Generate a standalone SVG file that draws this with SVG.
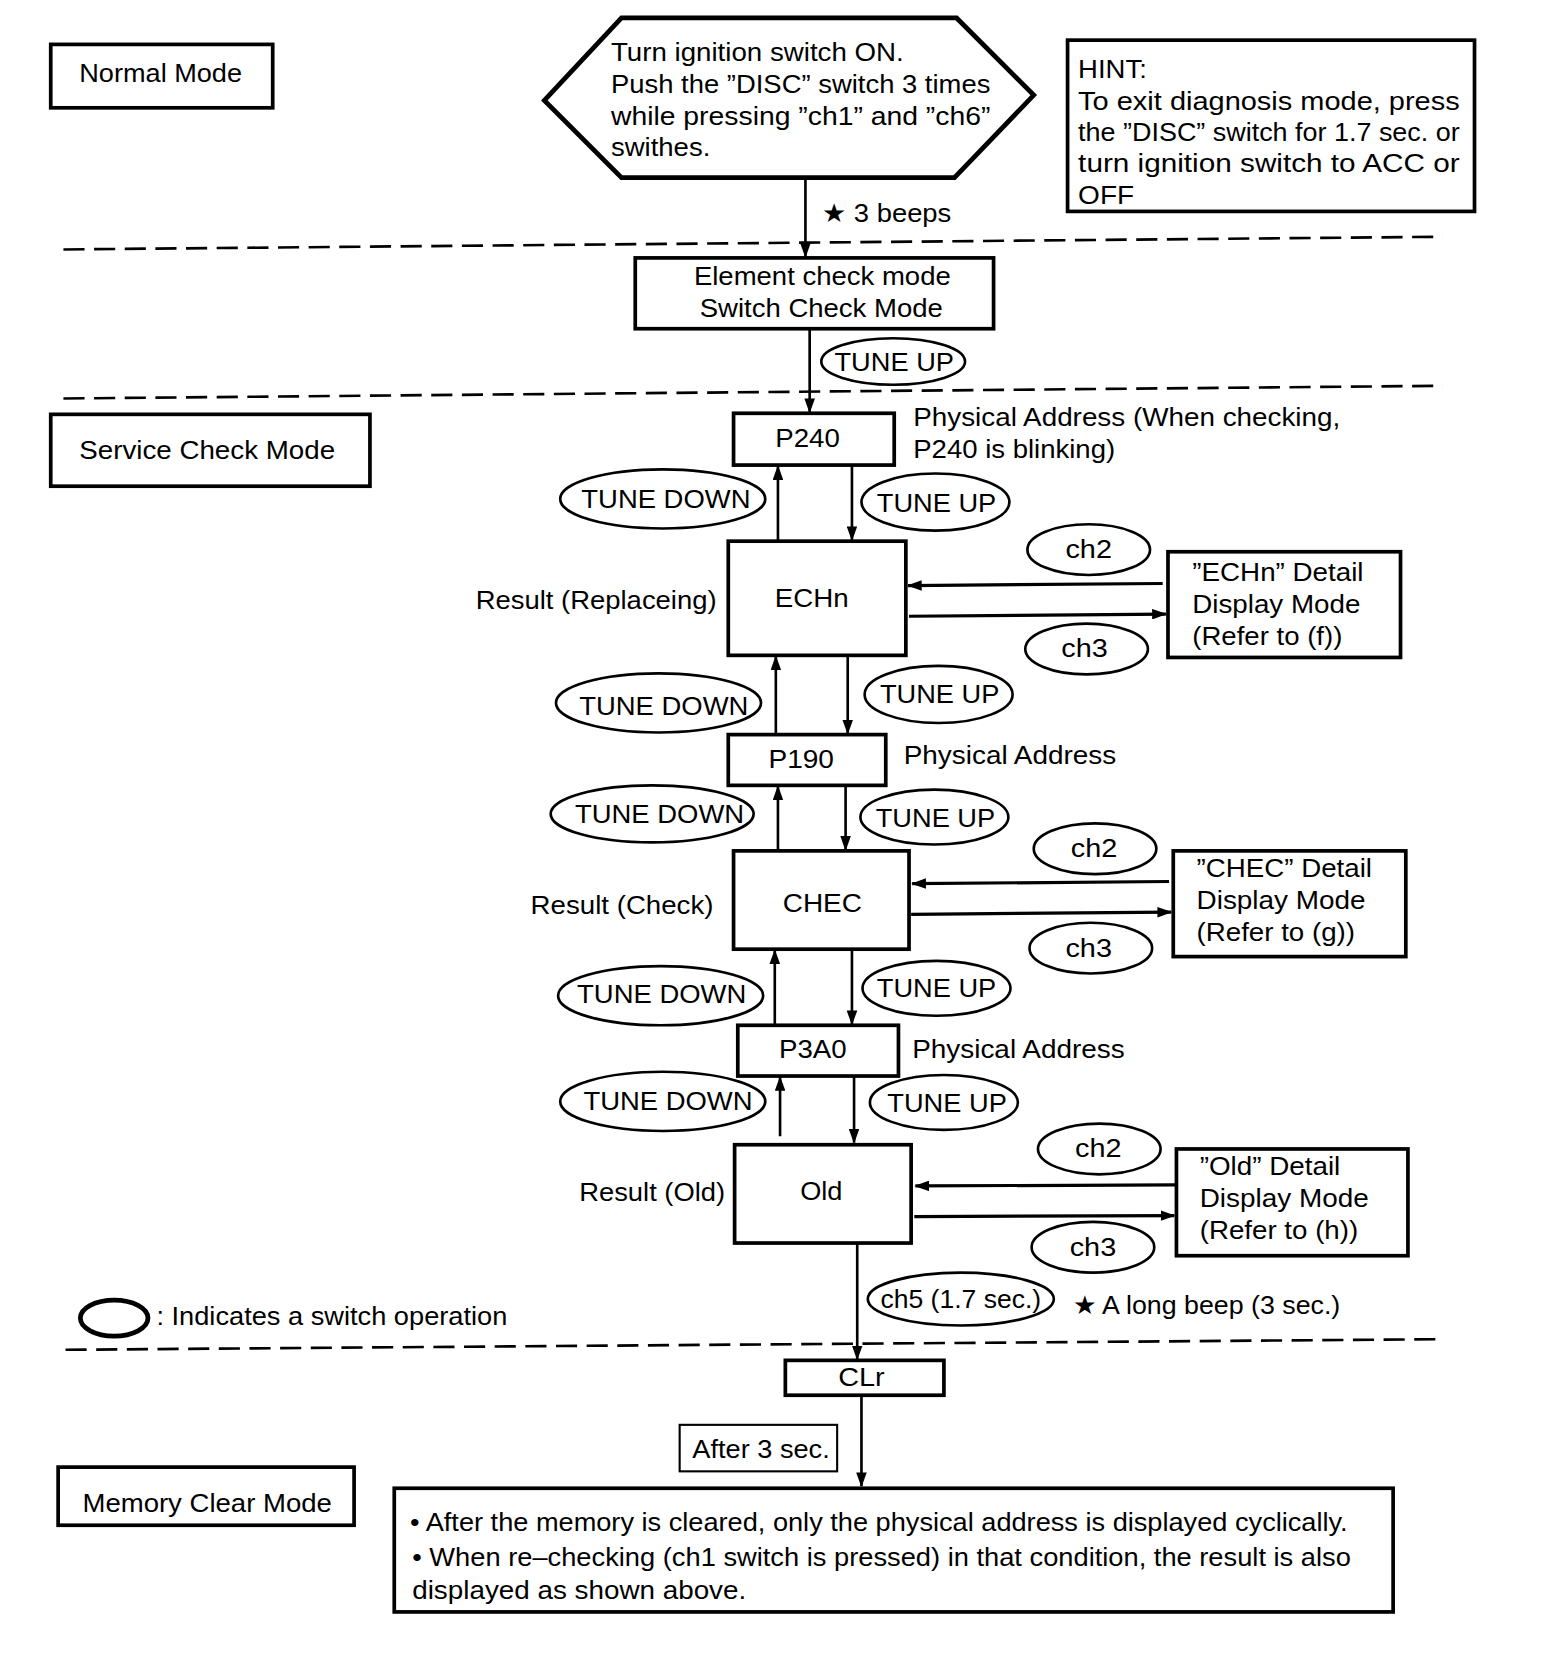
<svg xmlns="http://www.w3.org/2000/svg" width="1568" height="1656" viewBox="0 0 1568 1656">
<defs>
<style>
.t{font-family:"Liberation Sans",Arial,sans-serif;font-size:25px;fill:#000}
.c{text-anchor:middle}
.e{text-anchor:end}
.box{fill:#fff;stroke:#000;stroke-width:3.5}
.thin{fill:#fff;stroke:#000;stroke-width:2}
.ov{fill:none;stroke:#000;stroke-width:2.5}
.ln{stroke:#000;stroke-width:2.5;fill:none}
.hl{stroke:#000;stroke-width:3;fill:none}
.dash{stroke:#000;stroke-width:2.5;stroke-dasharray:20 9;fill:none}
</style>
<marker id="ah" markerUnits="userSpaceOnUse" markerWidth="14" markerHeight="10" refX="13" refY="5" orient="auto">
<path d="M0,0 L14,5 L0,10 z" fill="#000"/>
</marker>
</defs>
<rect width="1568" height="1656" fill="#fff"/>
<g transform="scale(1.057)">

<g id="dashes">
<line class="dash" x1="60" y1="236" x2="1365" y2="224"/>
<line class="dash" x1="60" y1="377" x2="1365" y2="365"/>
<line class="dash" x1="62" y1="1277" x2="1365" y2="1267"/>
</g>

<g id="connectors">
<line class="ln" x1="762" y1="168" x2="762" y2="243" marker-end="url(#ah)"/>
<line class="ln" x1="766" y1="311" x2="766" y2="390" marker-end="url(#ah)"/>
<line class="ln" x1="736" y1="512" x2="736" y2="441" marker-end="url(#ah)"/>
<line class="ln" x1="806" y1="440" x2="806" y2="511" marker-end="url(#ah)"/>
<line class="hl" x1="1100" y1="552" x2="859" y2="554" marker-end="url(#ah)"/>
<line class="hl" x1="860" y1="583" x2="1103" y2="581" marker-end="url(#ah)"/>
<line class="ln" x1="734" y1="695" x2="734" y2="621" marker-end="url(#ah)"/>
<line class="ln" x1="802" y1="620" x2="802" y2="694" marker-end="url(#ah)"/>
<line class="ln" x1="736" y1="805" x2="736" y2="744" marker-end="url(#ah)"/>
<line class="ln" x1="800" y1="743" x2="800" y2="804" marker-end="url(#ah)"/>
<line class="hl" x1="1106" y1="834" x2="863" y2="836" marker-end="url(#ah)"/>
<line class="hl" x1="862" y1="865" x2="1108" y2="863" marker-end="url(#ah)"/>
<line class="ln" x1="733" y1="970" x2="733" y2="899" marker-end="url(#ah)"/>
<line class="ln" x1="806" y1="898" x2="806" y2="969" marker-end="url(#ah)"/>
<line class="ln" x1="738" y1="1075" x2="738" y2="1019" marker-end="url(#ah)"/>
<line class="ln" x1="808" y1="1018" x2="808" y2="1081" marker-end="url(#ah)"/>
<line class="hl" x1="1112" y1="1121" x2="866" y2="1122" marker-end="url(#ah)"/>
<line class="hl" x1="865" y1="1151" x2="1111" y2="1150" marker-end="url(#ah)"/>
<line class="ln" x1="811" y1="1176" x2="811" y2="1286" marker-end="url(#ah)"/>
<line class="ln" x1="815" y1="1320" x2="815" y2="1406" marker-end="url(#ah)"/>
</g>

<g id="normal-mode">
<rect class="box" x="48" y="42" width="210" height="60"/>
<text class="t c" x="152" y="78" textLength="154" lengthAdjust="spacingAndGlyphs">Normal Mode</text>
</g>

<g id="start">
<polygon points="515,95 588,17 905,17 978,90 903,168 588,168" fill="#fff" stroke="#000" stroke-width="4.5" stroke-linejoin="miter"/>
<text class="t" x="578" y="58" textLength="277" lengthAdjust="spacingAndGlyphs">Turn ignition switch ON.</text>
<text class="t" x="578" y="88" textLength="359" lengthAdjust="spacingAndGlyphs">Push the ”DISC” switch 3 times</text>
<text class="t" x="578" y="118" textLength="359" lengthAdjust="spacingAndGlyphs">while pressing ”ch1” and ”ch6”</text>
<text class="t" x="578" y="148" textLength="94" lengthAdjust="spacingAndGlyphs">swithes.</text>
</g>

<g id="hint">
<rect class="box" x="1010" y="38" width="385" height="162" stroke-width="3"/>
<text class="t" x="1020" y="74" textLength="65" lengthAdjust="spacingAndGlyphs">HINT:</text>
<text class="t" x="1020" y="104" textLength="361" lengthAdjust="spacingAndGlyphs">To exit diagnosis mode, press</text>
<text class="t" x="1020" y="133" textLength="361" lengthAdjust="spacingAndGlyphs">the ”DISC” switch for 1.7 sec. or</text>
<text class="t" x="1020" y="163" textLength="361" lengthAdjust="spacingAndGlyphs">turn ignition switch to ACC or</text>
<text class="t" x="1020" y="193" textLength="53" lengthAdjust="spacingAndGlyphs">OFF</text>
</g>

<g id="beeps-label">
<text class="t" x="778" y="210" textLength="122" lengthAdjust="spacingAndGlyphs">★ 3 beeps</text>
</g>

<g id="element-check">
<rect class="box" x="601" y="244" width="339" height="67"/>
<text class="t c" x="778" y="270" textLength="243" lengthAdjust="spacingAndGlyphs">Element check mode</text>
<text class="t c" x="777" y="300" textLength="230" lengthAdjust="spacingAndGlyphs">Switch Check Mode</text>
</g>

<g id="op-tuneup-0">
<ellipse class="ov" cx="845" cy="342" rx="68" ry="22"/>
<text class="t c" x="846" y="351" textLength="113" lengthAdjust="spacingAndGlyphs">TUNE UP</text>
</g>

<g id="service-check-mode">
<rect class="box" x="48" y="392" width="302" height="68" stroke-width="4.5"/>
<text class="t c" x="196" y="434" textLength="242" lengthAdjust="spacingAndGlyphs">Service Check Mode</text>
</g>

<g id="p240">
<rect class="box" x="694" y="391" width="152" height="49"/>
<text class="t c" x="764" y="423" textLength="61" lengthAdjust="spacingAndGlyphs">P240</text>
<text class="t" x="864" y="403" textLength="404" lengthAdjust="spacingAndGlyphs">Physical Address (When checking,</text>
<text class="t" x="864" y="433" textLength="191" lengthAdjust="spacingAndGlyphs">P240 is blinking)</text>
</g>

<g id="op-tunedown-1">
<ellipse class="ov" cx="627" cy="472" rx="97" ry="28"/>
<text class="t c" x="630" y="481" textLength="160" lengthAdjust="spacingAndGlyphs">TUNE DOWN</text>
</g>
<g id="op-tuneup-1">
<ellipse class="ov" cx="885" cy="475" rx="70" ry="27"/>
<text class="t c" x="886" y="484" textLength="113" lengthAdjust="spacingAndGlyphs">TUNE UP</text>
</g>

<g id="echn">
<rect class="box" x="689" y="512" width="168" height="108"/>
<text class="t c" x="768" y="574" textLength="70" lengthAdjust="spacingAndGlyphs">ECHn</text>
<text class="t e" x="678" y="576" textLength="228" lengthAdjust="spacingAndGlyphs">Result (Replaceing)</text>
</g>

<g id="op-ch2-1">
<ellipse class="ov" cx="1030" cy="520" rx="58" ry="24"/>
<text class="t c" x="1030" y="528" textLength="44" lengthAdjust="spacingAndGlyphs">ch2</text>
</g>
<g id="op-ch3-1">
<ellipse class="ov" cx="1028" cy="614" rx="58" ry="24"/>
<text class="t c" x="1026" y="622" textLength="44" lengthAdjust="spacingAndGlyphs">ch3</text>
</g>

<g id="echn-detail">
<rect class="box" x="1105" y="522" width="220" height="100"/>
<text class="t" x="1128" y="550" textLength="162" lengthAdjust="spacingAndGlyphs">”ECHn” Detail</text>
<text class="t" x="1128" y="580" textLength="159" lengthAdjust="spacingAndGlyphs">Display Mode</text>
<text class="t" x="1128" y="610" textLength="142" lengthAdjust="spacingAndGlyphs">(Refer to (f))</text>
</g>

<g id="op-tunedown-2">
<ellipse class="ov" cx="623" cy="665" rx="97" ry="28"/>
<text class="t c" x="628" y="676" textLength="160" lengthAdjust="spacingAndGlyphs">TUNE DOWN</text>
</g>
<g id="op-tuneup-2">
<ellipse class="ov" cx="888" cy="657" rx="70" ry="27"/>
<text class="t c" x="889" y="665" textLength="113" lengthAdjust="spacingAndGlyphs">TUNE UP</text>
</g>

<g id="p190">
<rect class="box" x="689" y="695" width="149" height="48"/>
<text class="t c" x="758" y="727" textLength="62" lengthAdjust="spacingAndGlyphs">P190</text>
<text class="t" x="855" y="723" textLength="201" lengthAdjust="spacingAndGlyphs">Physical Address</text>
</g>

<g id="op-tunedown-3">
<ellipse class="ov" cx="617" cy="770" rx="96" ry="27"/>
<text class="t c" x="624" y="779" textLength="160" lengthAdjust="spacingAndGlyphs">TUNE DOWN</text>
</g>
<g id="op-tuneup-3">
<ellipse class="ov" cx="884" cy="773" rx="70" ry="26"/>
<text class="t c" x="885" y="782" textLength="113" lengthAdjust="spacingAndGlyphs">TUNE UP</text>
</g>

<g id="chec">
<rect class="box" x="694" y="805" width="166" height="93"/>
<text class="t c" x="778" y="863" textLength="75" lengthAdjust="spacingAndGlyphs">CHEC</text>
<text class="t e" x="675" y="865" textLength="173" lengthAdjust="spacingAndGlyphs">Result (Check)</text>
</g>

<g id="op-ch2-2">
<ellipse class="ov" cx="1036" cy="803" rx="58" ry="24"/>
<text class="t c" x="1035" y="811" textLength="44" lengthAdjust="spacingAndGlyphs">ch2</text>
</g>
<g id="op-ch3-2">
<ellipse class="ov" cx="1032" cy="897" rx="58" ry="24"/>
<text class="t c" x="1030" y="905" textLength="44" lengthAdjust="spacingAndGlyphs">ch3</text>
</g>

<g id="chec-detail">
<rect class="box" x="1110" y="805" width="220" height="100"/>
<text class="t" x="1132" y="830" textLength="166" lengthAdjust="spacingAndGlyphs">”CHEC” Detail</text>
<text class="t" x="1132" y="860" textLength="160" lengthAdjust="spacingAndGlyphs">Display Mode</text>
<text class="t" x="1132" y="890" textLength="150" lengthAdjust="spacingAndGlyphs">(Refer to (g))</text>
</g>

<g id="op-tunedown-4">
<ellipse class="ov" cx="625" cy="942" rx="97" ry="28"/>
<text class="t c" x="626" y="949" textLength="160" lengthAdjust="spacingAndGlyphs">TUNE DOWN</text>
</g>
<g id="op-tuneup-4">
<ellipse class="ov" cx="886" cy="935" rx="70" ry="26"/>
<text class="t c" x="886" y="943" textLength="113" lengthAdjust="spacingAndGlyphs">TUNE UP</text>
</g>

<g id="p3a0">
<rect class="box" x="698" y="970" width="152" height="48"/>
<text class="t c" x="769" y="1001" textLength="64" lengthAdjust="spacingAndGlyphs">P3A0</text>
<text class="t" x="863" y="1001" textLength="201" lengthAdjust="spacingAndGlyphs">Physical Address</text>
</g>

<g id="op-tunedown-5">
<ellipse class="ov" cx="627" cy="1042" rx="97" ry="28"/>
<text class="t c" x="632" y="1050" textLength="160" lengthAdjust="spacingAndGlyphs">TUNE DOWN</text>
</g>
<g id="op-tuneup-5">
<ellipse class="ov" cx="893" cy="1043" rx="70" ry="26"/>
<text class="t c" x="896" y="1052" textLength="113" lengthAdjust="spacingAndGlyphs">TUNE UP</text>
</g>

<g id="old">
<rect class="box" x="695" y="1083" width="167" height="93"/>
<text class="t c" x="777" y="1135" textLength="40" lengthAdjust="spacingAndGlyphs">Old</text>
<text class="t e" x="686" y="1136" textLength="138" lengthAdjust="spacingAndGlyphs">Result (Old)</text>
</g>

<g id="op-ch2-3">
<ellipse class="ov" cx="1040" cy="1087" rx="58" ry="24"/>
<text class="t c" x="1039" y="1095" textLength="44" lengthAdjust="spacingAndGlyphs">ch2</text>
</g>
<g id="op-ch3-3">
<ellipse class="ov" cx="1034" cy="1180" rx="58" ry="24"/>
<text class="t c" x="1034" y="1188" textLength="44" lengthAdjust="spacingAndGlyphs">ch3</text>
</g>

<g id="old-detail">
<rect class="box" x="1113" y="1087" width="219" height="101"/>
<text class="t" x="1135" y="1112" textLength="133" lengthAdjust="spacingAndGlyphs">”Old” Detail</text>
<text class="t" x="1135" y="1142" textLength="160" lengthAdjust="spacingAndGlyphs">Display Mode</text>
<text class="t" x="1135" y="1172" textLength="150" lengthAdjust="spacingAndGlyphs">(Refer to (h))</text>
</g>

<g id="op-ch5">
<ellipse class="ov" cx="909" cy="1229" rx="88" ry="25"/>
<text class="t c" x="909" y="1237" textLength="152" lengthAdjust="spacingAndGlyphs">ch5 (1.7 sec.)</text>
</g>
<g id="long-beep-label">
<text class="t" x="1015" y="1243" textLength="253" lengthAdjust="spacingAndGlyphs">★ A long beep (3 sec.)</text>
</g>

<g id="legend">
<ellipse cx="108" cy="1247" rx="32" ry="17" fill="none" stroke="#000" stroke-width="4.5"/>
<text class="t" x="148" y="1254" textLength="332" lengthAdjust="spacingAndGlyphs">: Indicates a switch operation</text>
</g>

<g id="clr">
<rect class="box" x="743" y="1287" width="150" height="33"/>
<text class="t c" x="815" y="1311" textLength="44" lengthAdjust="spacingAndGlyphs">CLr</text>
</g>

<g id="after-3-sec">
<rect class="thin" x="643" y="1348" width="149" height="44"/>
<text class="t c" x="720" y="1379" textLength="130" lengthAdjust="spacingAndGlyphs">After 3 sec.</text>
</g>

<g id="memory-clear-mode">
<rect class="box" x="55" y="1388" width="280" height="55"/>
<text class="t c" x="196" y="1430" textLength="236" lengthAdjust="spacingAndGlyphs">Memory Clear Mode</text>
</g>

<g id="memory-cleared-note">
<rect class="box" x="373" y="1408" width="945" height="117"/>
<text class="t" x="388" y="1448" textLength="887" lengthAdjust="spacingAndGlyphs">• After the memory is cleared, only the physical address is displayed cyclically.</text>
<text class="t" x="390" y="1482" textLength="888" lengthAdjust="spacingAndGlyphs">• When re–checking (ch1 switch is pressed) in that condition, the result is also</text>
<text class="t" x="390" y="1513" textLength="316" lengthAdjust="spacingAndGlyphs">displayed as shown above.</text>
</g>

</g>
</svg>
